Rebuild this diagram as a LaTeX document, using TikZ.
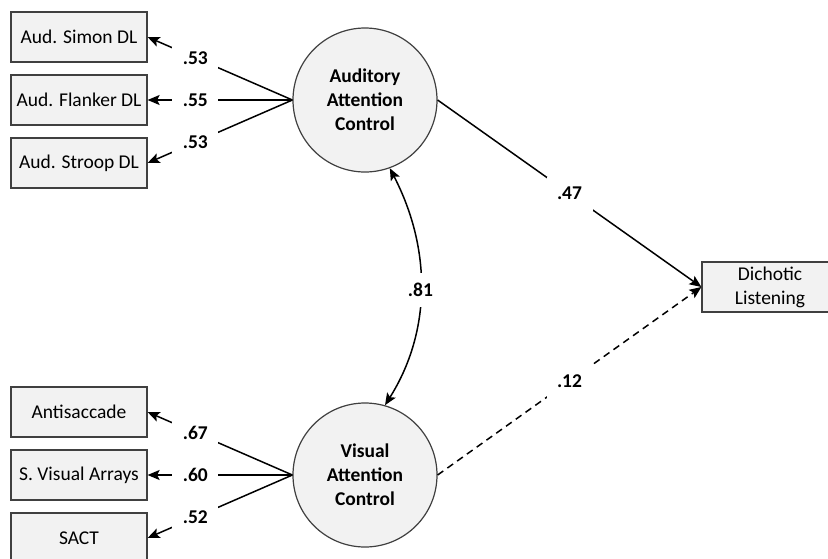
\documentclass[tikz,border=0pt]{standalone}
\usepackage{fontspec}
\setmainfont{Carlito}
\usetikzlibrary{arrows.meta}
\definecolor{boxfill}{HTML}{F2F2F2}
\definecolor{edgegray}{HTML}{404040}
\tikzset{
  every node/.style={font=\fontsize{19.5}{24}\selectfont, text=black},
  indicator/.style={draw=edgegray, line width=1.2pt, fill=boxfill,
    minimum width=136pt, minimum height=50pt, inner sep=0pt, align=center},
  latent/.style={circle, draw=edgegray, line width=1.2pt, fill=boxfill,
    minimum size=144pt, inner sep=0pt, align=center, font=\fontsize{19.5}{24}\selectfont\bfseries},
  coef/.style={fill=white, inner sep=0pt, minimum width=46pt, minimum height=34pt,
    font=\fontsize{19.5}{24}\selectfont\bfseries},
  path/.style={line width=1.5pt, -{Stealth[length=12pt,width=10pt,inset=2.5pt]}},
  covpath/.style={line width=1.5pt, {Stealth[length=12pt,width=10pt,inset=2.5pt]}-{Stealth[length=12pt,width=10pt,inset=2.5pt]}}
}
\begin{document}
\begin{tikzpicture}[x=1pt,y=1pt]
  \clip (0,0) rectangle (828,-558);
  \fill[white] (0,0) rectangle (828,-558);

  % latent factors
  \node[latent] (aud) at (365,-100) {Auditory\\Attention\\Control};
  \node[latent] (vis) at (365,-475) {Visual\\Attention\\Control};

  % auditory indicators
  \node[indicator] (s1) at (79,-37)  {Aud. Simon DL};
  \node[indicator] (s2) at (79,-100) {Aud. Flanker DL};
  \node[indicator] (s3) at (79,-163) {Aud. Stroop DL};

  % visual indicators
  \node[indicator] (v1) at (79,-412) {Antisaccade};
  \node[indicator] (v2) at (79,-475) {S. Visual Arrays};
  \node[indicator] (v3) at (79,-538) {SACT};

  % outcome
  \node[indicator] (dl) at (770,-287) {Dichotic\\Listening};

  % factor loadings
  \draw[path] (aud.west) -- node[coef, pos=0.67] {.53} (s1.east);
  \draw[path] (aud.west) -- node[coef, pos=0.67] {.55} (s2.east);
  \draw[path] (aud.west) -- node[coef, pos=0.67] {.53} (s3.east);
  \draw[path] (vis.west) -- node[coef, pos=0.67] {.67} (v1.east);
  \draw[path] (vis.west) -- node[coef, pos=0.67] {.60} (v2.east);
  \draw[path] (vis.west) -- node[coef, pos=0.67] {.52} (v3.east);

  % structural paths
  \draw[path] (aud.east) -- node[coef] {.47} (dl.west);
  \draw[path, dash pattern=on 7pt off 5pt] (vis.east) -- node[coef] {.12} (dl.west);

  % factor covariance
  \draw[covpath] (aud.-70) .. controls (432,-250) and (431,-332) .. node[coef] {.81} (vis.74);
\end{tikzpicture}
\end{document}
